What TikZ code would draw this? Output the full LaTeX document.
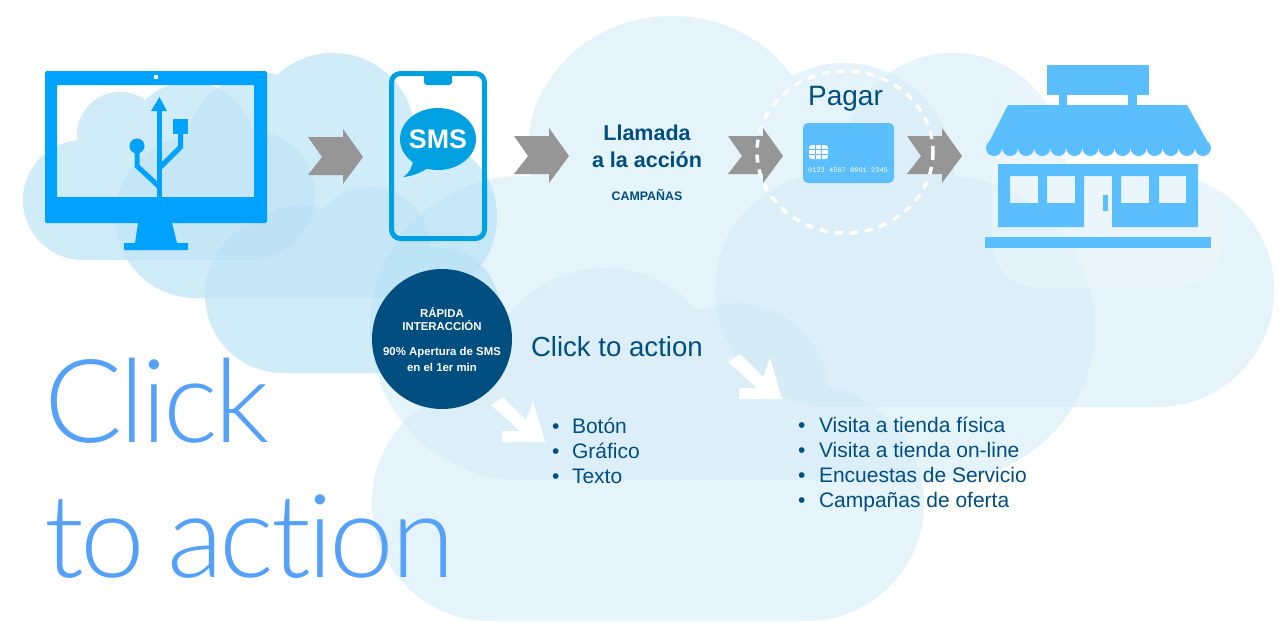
\documentclass[tikz,border=0pt]{standalone}
\usepackage{fontspec}
\setmainfont{Liberation Sans}
\newfontfamily\thinfont[WordSpace=0.8,LetterSpace=-3,Ligatures=CommonOff]{Lato Light}
\newfontfamily\monofnt{Liberation Mono}
\definecolor{farbase}{RGB}{148,202,242}
\definecolor{farlayer}{RGB}{175,222,242}
\definecolor{nearbase}{RGB}{160,225,248}
\definecolor{nearlayer}{RGB}{172,218,245}
\definecolor{navy}{RGB}{1,78,128}
\definecolor{shop}{RGB}{90,190,255}
\definecolor{pc}{RGB}{0,162,255}
\definecolor{phonec}{RGB}{0,160,225}
\definecolor{chev}{RGB}{150,150,150}
\definecolor{bigt}{RGB}{85,160,248}
\newcommand{\fsz}[1]{\fontsize{#1}{#1}\selectfont}
\newcommand{\chevr}[2]{\fill[chev] (#1,#2-20) -- (#1+14,#2) -- (#1,#2+18) -- (#1+35,#2+18) -- (#1+35,#2+27) -- (#1+55,#2) -- (#1+35,#2-28) -- (#1+35,#2-20) -- cycle;}
\newcommand{\whitearrow}[2]{\begin{scope}[shift={(#1,#2)}]\fill[white] (491,405) -- (503,397) -- (526,420) -- (533,401) -- (545,442) -- (502,442) -- (502,431) -- (520,431) -- cycle;\end{scope}}
% cloud outlines (every part runs the same way round, so each is a union)
\newcommand{\cloudD}{(522,328) circle (152) (672,150) ellipse [x radius=144,y radius=134] (844,173) circle (110) (943,328) circle (152) (522,200) -- (672,150) -- (844,173) -- (943,176) -- (943,480) -- (522,480) -- cycle}
\newcommand{\cloudE}{(832,290) circle (117) (953,165) circle (112) (1157,290) circle (117) (832,173) -- (953,165) -- (1157,173) -- (1157,407) -- (832,407) -- cycle}
\newcommand{\cloudF}{(490,503) circle (118) (605,390) circle (122) (735,398) circle (95) (806,503) circle (118) (490,450) -- (605,390) -- (735,398) -- (806,450) -- (806,621) -- (490,621) -- cycle}
\newcommand{\cloudA}{(83,200) circle (60) (120,135) circle (43) (190,147) circle (65) (250,195) circle (65) (83,170) -- (190,147) -- (250,170) -- (250,260) -- (83,260) -- cycle}
\newcommand{\cloudB}{(196,217) circle (81) (263,150) circle (77) (333,135) circle (82) (416,217) circle (81) (196,170) -- (333,135) -- (416,170) -- (416,298) -- (196,298) -- cycle}
\newcommand{\cloudC}{(283,295) circle (78) (300,265) circle (60) (370,247) circle (60) (437,310) circle (63) (283,260) -- (370,247) -- (437,280) -- (437,373) -- (283,373) -- cycle}
\tikzset{
  lbl/.style={inner sep=0pt,outer sep=0pt,text=navy},
  wlbl/.style={inner sep=0pt,text=white,font=\bfseries\fsz{11.4}},
  listt/.style={lbl,anchor=base west,font=\fsz{21}},
  big/.style={inner sep=0pt,outer sep=0pt,text=bigt,anchor=base west,font=\thinfont\fsz{116}},
}
\begin{document}
\begin{tikzpicture}[x=1pt,y=-1pt]
\useasboundingbox (0,0) rectangle (1280,638);
\fill[white] (0,0) rectangle (1280,638);
% far clouds
\fill[farbase,opacity=.15] \cloudD \cloudE \cloudF;
\fill[farlayer,opacity=.15] \cloudD;
\fill[farlayer,opacity=.15] \cloudE;
\fill[farlayer,opacity=.15] \cloudF;
\begin{scope}[transparency group,opacity=.25]
 \fill[white] (1063,136) circle (66);
 \fill[white,rounded corners=45pt] (992,130) rectangle (1223,287);
\end{scope}
% near clouds
\fill[nearbase,opacity=.3] \cloudA \cloudB \cloudC;
\fill[nearlayer,opacity=.3] \cloudA;
\fill[nearlayer,opacity=.3] \cloudB;
\fill[nearlayer,opacity=.3] \cloudC;
% monitor
\fill[pc,even odd rule] [rounded corners=1.5pt] (45,71) rectangle (267,223) [sharp corners] (57,85) rectangle (254,197);
\fill[white] (156,77) circle (2.3);
\fill[pc] (138,223) -- (172,223) -- (177,243) -- (188,243) -- (188,250) -- (124,250) -- (124,243) -- (135,243) -- cycle;
% usb
\fill[pc] (157,197) rectangle (162,110);
\fill[pc] (159.5,97) -- (167,111) -- (151,111) -- cycle;
\fill[pc] (173,119) rectangle (188,134);
\fill[pc] (137,146) circle (7.5);
\draw[pc,line width=5pt] (180.5,134) -- (180.5,147) -- (159.5,168);
\draw[pc,line width=5pt] (137,146) -- (137,166) -- (159.5,187);
% phone
\draw[phonec,line width=5pt,rounded corners=9pt] (391.5,73.5) rectangle (484.5,238.5);
\fill[phonec,rounded corners=3pt] (424,72) rectangle (452,85);
\fill[phonec] (438,139) ellipse [x radius=38,y radius=31];
\fill[phonec] (413,158) .. controls (413,166) and (410,173) .. (403,177) .. controls (414,176) and (423,172) .. (432,165) -- cycle;
\node[inner sep=0pt,text=white,font=\bfseries\fsz{26.8}] (sms) at (438,139) {SMS};
% chevrons
\chevr{308}{157}
\chevr{514}{156}
\chevr{728}{156}
\chevr{907}{156}
% call to action
\node[lbl,font=\bfseries\fsz{21.5}] (llamada) at (647,133) {Llamada};
\node[lbl,font=\bfseries\fsz{21.5}] (alaaccion) at (647,160) {a la acción};
\node[lbl,font=\bfseries\fsz{12.4}] (campanas) at (647,195) {CAMPAÑAS};
% card
\fill[shop,rounded corners=5pt] (803,123) rectangle (894,183);
\fill[white,rounded corners=3pt] (809,145) rectangle (828,159);
\draw[shop,line width=.9pt] (809,149.7) -- (828,149.7) (809,154.3) -- (828,154.3) (815.3,145) -- (815.3,159) (821.7,145) -- (821.7,159);
\node[inner sep=0pt,text=white,font=\monofnt\fsz{7}] (cardnum) at (848,170.5) {0123 4567 8901 2345};
\node[lbl,anchor=base,font=\fsz{28}] (pagar) at (845.5,105.5) {Pagar};
% dashed ring
\draw[white,line width=3.5pt,dash pattern=on 8pt off 7pt] (845,152) ellipse [x radius=88,y radius=81];
% store
\fill[shop] (1047,65) rectangle (1149,95);
\fill[shop] (1059,95) rectangle (1067,105);
\fill[shop] (1128,95) rectangle (1137,105);
\fill[shop] (1008,105) -- (1187,105) -- (1211,148) -- (986,148) -- cycle;
\foreach \i in {0,...,13} \fill[shop] (994+16.07*\i,148) circle (8);
\fill[shop,even odd rule] (998,164) -- (1198,164) -- (1198,227) -- (1112,227) -- (1112,176) -- (1084,176) -- (1084,227) -- (998,227) -- cycle
  (1010,176) rectangle (1038,203) (1047,176) rectangle (1075,203) (1121,176) rectangle (1149,203) (1159,176) rectangle (1186,203);
\fill[shop] (1103,195) rectangle (1108,211);
\fill[shop] (985,237) rectangle (1211,248);
% dark circle
\node[circle,fill=navy,minimum size=140pt,inner sep=0pt] (rapid) at (442,339) {};
\node[wlbl] (t1) at (442,312) {RÁPIDA};
\node[wlbl] (t2) at (442,325.5) {INTERACCIÓN};
\node[wlbl] (t3) at (442,353) {90\% Apertura de SMS};
\node[wlbl] (t4) at (442,367) {en el 1er min};
% white arrows
\whitearrow{0}{0}
\whitearrow{237}{-43}
% texts
\node[lbl,anchor=base west,font=\fsz{27.6}] (cta) at (531,356.5) {Click to action};
\foreach \n/\t/\y in {a/Botón/433,b/Gráfico/458,c/Texto/483}{
 \node[listt] (b\n) at (552,\y) {•};
 \node[listt] (l\n) at (572,\y) {\t};
}
\foreach \n/\t/\y in {a/Visita a tienda física/432,b/Visita a tienda on-line/457,c/Encuestas de Servicio/482,d/Campañas de oferta/507}{
 \node[listt] (rb\n) at (798,\y) {•};
 \node[listt] (r\n) at (819,\y) {\t};
}
\node[big] (click) at (44,442) {Click};
\node[big] (toaction) at (44,577) {to action};
\end{tikzpicture}
\end{document}
